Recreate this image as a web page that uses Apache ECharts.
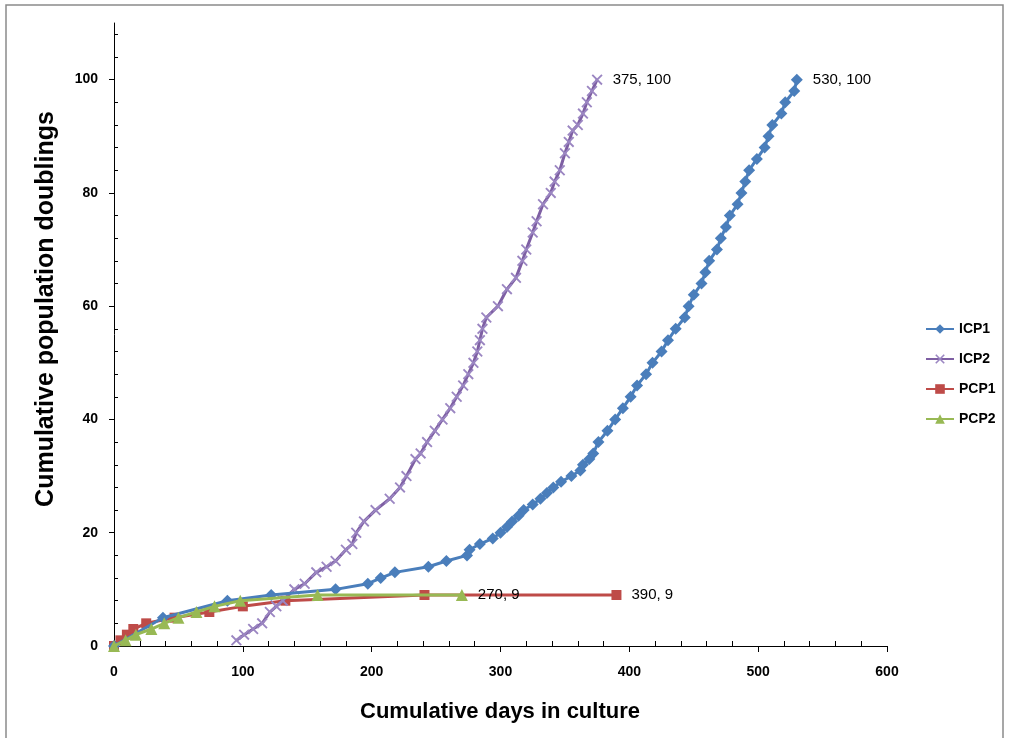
<!DOCTYPE html>
<html><head><meta charset="utf-8">
<script src="https://cdn.jsdelivr.net/npm/echarts@6/dist/echarts.min.js"></script>
<style>html,body{margin:0;padding:0;background:#fff}#c{width:1009px;height:738px}</style>
</head><body><div id="c"></div>
<script>
const seriesNames = ['ICP1', 'ICP2', 'PCP1', 'PCP2'];
const icp1 = [[0,0],[38,5],[88,8],[122,9],[172,10],[197,11],[207,12],[218,13],[244,14],[258,15],[274,16],[276,17],[284,18],[294,19],[300,20],[305,21],[309,22],[314,23],[318,24],[325,25],[331,26],[336,27],[341,28],[347,29],[355,30],[362,31],[364,32],[369,33],[372,34],[376,36],[383,38],[389,40],[395,42],[401,44],[406,46],[413,48],[418,50],[425,52],[430,54],[436,56],[443,58],[446,60],[450,62],[456,64],[459,66],[462,68],[468,70],[471,72],[475,74],[478,76],[484,78],[487,80],[490,82],[493,84],[499,86],[505,88],[508,90],[511,92],[518,94],[521,96],[528,98],[530,100]];
const icp2 = [[95,1],[101,2],[108,3],[115,4],[121,6],[126,7],[131,8],[140,10],[148,11],[157,13],[165,14],[172,15],[180,17],[185,18],[188,20],[194,22],[203,24],[214,26],[222,28],[227,30],[234,33],[238,34],[243,36],[249,38],[255,40],[261,42],[266,44],[271,46],[275,48],[279,50],[282,52],[284,54],[286,56],[289,58],[298,60],[305,63],[312,65],[317,68],[320,70],[325,73],[328,75],[333,78],[339,80],[342,82],[346,84],[350,87],[353,89],[356,91],[360,92],[364,94],[367,96],[371,98],[375,100]];
const pcp1 = [[0,0],[5,1],[10,2],[15,3],[25,4],[47,5],[74,6],[100,7],[133,8],[241,9],[390,9]];
const pcp2 = [[0,0],[9,1],[17,2],[29,3],[39,4],[50,5],[64,6],[78,7],[98,8],[158,9],[270,9]];
const xMajorTicks = [0,100,200,300,400,500,600];
const yMajorTicks = [0,20,40,60,80,100];
const xTitle = 'Cumulative days in culture';
const yTitle = 'Cumulative population doublings';

const FONT = 'Liberation Sans';
const colors = ['#4A7EBB', '#7E5FA3', '#BE4B48', '#98B954'];
const markerColors = ['#4A7EBB', '#9B86C2', '#BE4B48', '#98B954'];
const symbols = ['diamond', 'path://M0,1.2L1.2,0L10,8.8L8.8,10Z M8.8,0L10,1.2L1.2,10L0,8.8Z', 'rect', 'triangle'];
const sizes = [12, 11, 10, 12];

function lastLabeled(arr) {
  return arr.map((p, i) => i === arr.length - 1
    ? { value: p, label: { show: true, position: 'right', distance: 10,
        formatter: (pp) => pp.value[0] + ', ' + pp.value[1],
        fontFamily: FONT, fontSize: 15, color: '#000' } }
    : p);
}

const minorX = []; for (let v = 20; v < 600; v += 20) if (v % 100) minorX.push(v);
const minorY = []; for (let v = 4; v < 110; v += 4) if (v % 20) minorY.push(v);

const chart = echarts.init(document.getElementById('c'), null, { renderer: 'canvas' });
chart.setOption({
  animation: false,
  backgroundColor: '#fff',
  grid: { left: 114, right: 122, top: 23, bottom: 92, containLabel: false },
  xAxis: [
    { type: 'value', min: 0, max: 600, interval: 100, position: 'bottom',
      axisLine: { show: true, lineStyle: { color: '#000', width: 1 } },
      axisTick: { show: true, inside: false, length: 6, customValues: xMajorTicks, lineStyle: { color: '#000' } },
      axisLabel: { customValues: xMajorTicks, margin: 19, fontFamily: FONT, fontSize: 14, fontWeight: 'bold', color: '#000' },
      splitLine: { show: false } },
    { type: 'value', min: 0, max: 600, interval: 100, position: 'bottom', offset: 0,
      axisLine: { show: false },
      axisTick: { show: true, inside: true, length: 5, customValues: minorX, lineStyle: { color: '#000' } },
      axisLabel: { show: false }, splitLine: { show: false } }
  ],
  yAxis: [
    { type: 'value', min: 0, max: 110, interval: 20, position: 'left',
      axisLine: { show: true, lineStyle: { color: '#000', width: 1 } },
      axisTick: { show: true, inside: false, length: 5, customValues: yMajorTicks, lineStyle: { color: '#000' } },
      axisLabel: { customValues: yMajorTicks, margin: 16, fontFamily: FONT, fontSize: 14, fontWeight: 'bold', color: '#000' },
      splitLine: { show: false } },
    { type: 'value', min: 0, max: 110, interval: 20, position: 'left', offset: 0,
      axisLine: { show: false },
      axisTick: { show: true, inside: true, length: 4, customValues: minorY, lineStyle: { color: '#000' } },
      axisLabel: { show: false }, splitLine: { show: false } }
  ],
  legend: {
    orient: 'vertical', left: 925, top: 321, itemWidth: 28, itemHeight: 12, itemGap: 14, padding: 0,
    data: seriesNames,
    textStyle: { fontFamily: FONT, fontSize: 14, fontWeight: 'bold', color: '#000', lineHeight: 16 }
  },
  graphic: [
    { type: 'rect', shape: { x: 6, y: 5, width: 997, height: 760 }, silent: true,
      style: { fill: 'none', stroke: '#8a8a8a', lineWidth: 1.5 } },
    { type: 'text', x: 46, y: 309, rotation: Math.PI / 2,
      style: { text: yTitle, fontFamily: FONT, fontSize: 25, fontWeight: 'bold', fill: '#000', align: 'center', verticalAlign: 'middle' } },
    { type: 'text', x: 500, y: 712,
      style: { text: xTitle, fontFamily: FONT, fontSize: 22, fontWeight: 'bold', fill: '#000', align: 'center', verticalAlign: 'middle' } }
  ],
  series: [icp1, icp2, pcp1, pcp2].map((d, i) => ({
    name: seriesNames[i], type: 'line', xAxisIndex: 0, yAxisIndex: 0,
    data: lastLabeled(d),
    symbol: symbols[i], symbolSize: sizes[i], showAllSymbol: true,
    lineStyle: { color: colors[i], width: 3 },
    itemStyle: { color: markerColors[i] },
    z: [4, 3, 2, 5][i]
  }))
});
</script>
</body></html>
